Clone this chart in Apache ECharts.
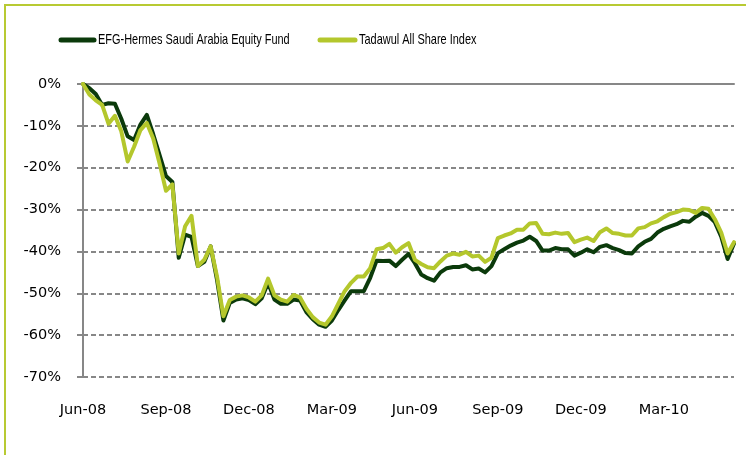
<!DOCTYPE html>
<html>
<head>
<meta charset="utf-8">
<script src="https://cdn.jsdelivr.net/npm/echarts@6/dist/echarts.min.js"></script>
<style>
html, body { margin: 0; padding: 0; background: #fff; }
#main { width: 746px; height: 455px; }
</style>
</head>
<body>
<div id="main"></div>
<script>
// weekly points, index 0 = start of Jun-08
var xTickLabels = ['Jun-08', 'Sep-08', 'Dec-08', 'Mar-09', 'Jun-09', 'Sep-09', 'Dec-09', 'Mar-10'];
var yTickLabels = ['-70%', '-60%', '-50%', '-40%', '-30%', '-20%', '-10%', '0%'];

// EFG-Hermes Saudi Arabia Equity Fund (%)
var fundValues = [
	0, -1.0, -2.4, -5.0, -4.6, -4.7, -8.3, -12.5, -13.4, -9.7,
	-7.4, -12, -17, -22, -23.4, -41.5, -36, -36.5, -43.5, -42.5,
	-38.8, -46.8, -56.5, -52.3, -51.5, -51.2, -51.6, -52.6, -51.2, -47.5,
	-51.5, -52.5, -52.5, -51.5, -51.7, -54.5, -56.2, -57.5, -58, -56.5,
	-54, -51.7, -49.5, -49.5, -49.5, -46.3, -42.2, -42.3, -42.2, -43.5,
	-42, -40.6, -42.8, -45.5, -46.4, -47, -45, -44, -43.7, -43.7,
	-43.3, -44.3, -44.1, -45, -43.5, -40.4, -39.5, -38.6, -37.9, -37.4,
	-36.5, -37.5, -39.8, -39.8, -39.2, -39.5, -39.5, -41, -40.3, -39.5,
	-40.2, -38.9, -38.5, -39.2, -39.7, -40.4, -40.5, -38.8, -37.7, -37,
	-35.5, -34.6, -34, -33.5, -32.7, -32.9, -31.7, -30.8, -31.5, -33,
	-36.5, -41.8, -38.1
];

// Tadawul All Share Index (%)
var indexValues = [
	0, -2.5, -3.9, -5.0, -9.5, -7.6, -11.3, -18.5, -15, -11,
	-9.3, -13, -19, -25.5, -24, -40.5, -34, -31.5, -43.5, -42,
	-38.8, -46, -55.5, -51.6, -50.8, -50.5, -51, -52, -50.5, -46.5,
	-50.5, -51.5, -52, -50.4, -51, -53.7, -55.7, -57, -57.5, -55.5,
	-52.5, -49.5, -47.5, -46, -46, -44, -39.5, -39.2, -38.2, -40.3,
	-39, -38, -42, -43, -43.8, -44, -42.4, -41, -40.5, -40.8,
	-40.1, -41.2, -41, -42.5, -41.5, -36.8, -36.2, -35.7, -34.8, -34.8,
	-33.3, -33.2, -35.8, -35.9, -35.5, -35.8, -35.6, -37.8, -37.2, -36.7,
	-37.5, -35.4, -34.5, -35.6, -35.8, -36.2, -36.2, -34.5, -34.2, -33.3,
	-32.8, -31.8, -31, -30.6, -30, -30.1, -30.8, -29.6, -29.8, -32.3,
	-35.5, -40.5, -37.8
];

var seriesNames = ['EFG-Hermes Saudi Arabia Equity Fund', 'Tadawul All Share Index'];
var fundColor = '#0b3a0b';
var indexColor = '#b4c72c';
var frameColor = '#b8ca33';
var axisGray = '#878787';
var legendFont = '14.5px "Liberation Sans", Arial, sans-serif';

function toPairs(arr) {
	return arr.map(function (v, i) { return [i, v]; });
}

// legend drawn by hand: the original uses a condensed face
function legendItem(x, lineLen, name, color) {
	return [{
		type: 'line',
		shape: { x1: x + 2, y1: 40, x2: x + lineLen - 2, y2: 40 },
		style: { stroke: color, lineWidth: 5, lineCap: 'round' },
		silent: true
	}, {
		type: 'text',
		x: x + lineLen + 2,
		y: 40,
		scaleX: 0.755,
		style: { text: name, font: legendFont, fill: '#000', textVerticalAlign: 'middle' },
		silent: true
	}];
}

var chart = echarts.init(document.getElementById('main'), null, { renderer: 'canvas' });

var option = {
	animation: false,
	backgroundColor: '#fff',
	graphic: [{
		type: 'rect',
		shape: { x: 5, y: 5, width: 900, height: 700 },
		style: { fill: 'none', stroke: frameColor, lineWidth: 2 },
		silent: true
	}].concat(
		legendItem(59, 37, seriesNames[0], fundColor),
		legendItem(318, 39, seriesNames[1], indexColor)
	),
	grid: {
		left: 83,
		top: 84,
		right: 12,
		bottom: 78,
		containLabel: false
	},
	xAxis: [{
		type: 'value',
		position: 'bottom',
		min: 0,
		max: 102,
		interval: 13,
		axisLine: { show: false, onZero: false },
		axisTick: { show: false },
		splitLine: { show: false },
		axisLabel: {
			showMaxLabel: false,
			margin: 26,
			fontFamily: '"DejaVu Sans", sans-serif',
			fontSize: 14.5,
			color: '#000',
			formatter: function (v) {
				return v % 13 === 0 ? (xTickLabels[v / 13] || '') : '';
			}
		}
	}, {
		type: 'value',
		position: 'top',
		min: 0,
		max: 102,
		axisLine: { show: true, onZero: false, lineStyle: { color: axisGray, width: 2 } },
		axisTick: { show: false },
		axisLabel: { show: false },
		splitLine: { show: false }
	}],
	yAxis: {
		type: 'value',
		min: -70,
		max: 0,
		interval: 10,
		axisLine: { show: true, onZero: false, lineStyle: { color: axisGray, width: 2 } },
		axisTick: { show: true, inside: false, length: 6, lineStyle: { color: axisGray, width: 2 } },
		splitLine: { show: true, lineStyle: { color: axisGray, width: 2, type: [5, 3] } },
		axisLabel: {
			margin: 22,
			fontFamily: '"DejaVu Sans", sans-serif',
			fontSize: 14.5,
			color: '#000',
			formatter: function (v) {
				return yTickLabels[(v + 70) / 10];
			}
		}
	},
	series: [{
		name: seriesNames[0],
		type: 'line',
		data: toPairs(fundValues),
		showSymbol: false,
		symbol: 'none',
		color: fundColor,
		lineStyle: { color: fundColor, width: 4, cap: 'round', join: 'round' },
		z: 3
	}, {
		name: seriesNames[1],
		type: 'line',
		data: toPairs(indexValues),
		showSymbol: false,
		symbol: 'none',
		color: indexColor,
		lineStyle: { color: indexColor, width: 4, cap: 'round', join: 'round' },
		z: 4
	}]
};

chart.setOption(option);

window.onresize = function () {
	chart.resize();
};
</script>
</body>
</html>
